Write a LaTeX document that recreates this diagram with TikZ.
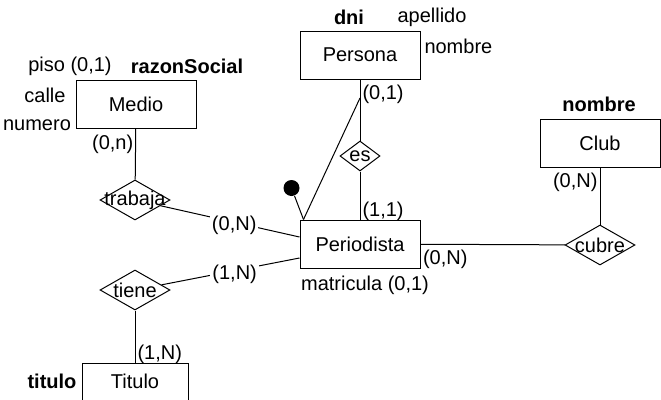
\documentclass[tikz,border=0pt]{standalone}
\usepackage{fontspec}
\setmainfont{Liberation Sans}
\usetikzlibrary{shapes.geometric}

\begin{document}
\begin{tikzpicture}[x=0.75pt, y=-0.75pt, line width=0.75pt,
  every node/.style={font=\fontsize{15}{18}\selectfont},
  entity/.style={draw, rectangle, minimum width=90pt, minimum height=36pt, inner sep=0pt},
  rel/.style={draw, diamond, inner sep=0pt, minimum width=52.5pt, minimum height=30pt},
  card/.style={inner sep=1.5pt, yshift=-2.5pt}]
\useasboundingbox (0,0) rectangle (661,400);
\node[entity] (persona) at (360,55) {Persona};
\node[entity] (medio) at (136,104.5) {Medio};
\node[entity] (club) at (600,143) {Club};
\node[entity] (periodista) at (360,244) {Periodista};
\node[entity, minimum width=79.5pt, minimum height=27.75pt] (titulo) at (135,381.5) {Titulo};
\node[rel, label=center:trabaja] (trabaja) at (135,200) {};
\node[rel, minimum width=30pt, minimum height=22.5pt, label=center:es] (es) at (360,156) {};
\node[rel, label=center:tiene] (tiene) at (135,290) {};
\node[rel, label=center:cubre] (cubre) at (600,245) {};
% atributos
\node (dni) at (349,17) {\textbf{dni}};
\node (apellido) at (432,17) {apellido};
\node[anchor=west, inner sep=0pt] (nombreP) at (424,46) {nombre};
\node (piso) at (70,66) {piso (0,1)};
\node (razon) at (187,66) {\textbf{razonSocial}};
\node (calle) at (45,95) {calle};
\node (numero) at (37,125) {numero};
\node (nombreC) at (599,104) {\textbf{nombre}};
\node (matricula) at (365,285) {matricula (0,1)};
\node (tit) at (52,381) {\textbf{titulo}};
% relaciones
\draw (medio) -- (trabaja) node[card, pos=0, below left]{(0,n)};
\draw (trabaja) -- ([yshift=5.25pt]periodista.west) node[card, pos=.53, fill=white]{(0,N)};
\draw (tiene) -- ([yshift=-10.5pt]periodista.west) node[card, pos=.53, fill=white]{(1,N)};
\draw (tiene) -- (titulo) node[card, pos=1, above right]{(1,N)};
\draw (persona) -- (es) node[card, pos=0, below right]{(0,1)};
\draw (es) -- (periodista) node[card, pos=1, above right]{(1,1)};
\draw (periodista) -- (cubre) node[card, pos=0, below right]{(0,N)};
\draw (cubre) -- (club) node[card, pos=1, below left]{(0,N)};
% subtipo
\coordinate (p1) at (360,98);
\coordinate (p2) at ([xshift=3pt]periodista.north west);
\node[circle, fill=black, inner sep=0pt, minimum size=12pt] (dot) at (291.5,188) {};
\draw (p1) -- (p2);
\draw (dot) -- (p2);
\end{tikzpicture}
\end{document}
